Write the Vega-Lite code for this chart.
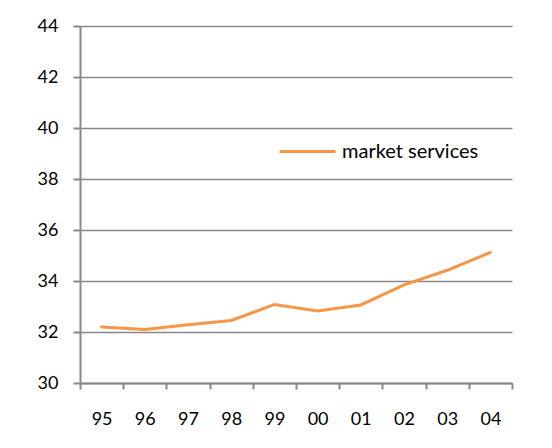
{
  "$schema": "https://vega.github.io/schema/vega-lite/v6.json",
  "width": 432,
  "height": 357,
  "autosize": {"type": "none"},
  "padding": {"left": 80, "top": 26, "right": 40, "bottom": 65},
  "background": "white",
  "data": {
    "values": [
      {"year": "95", "value": 32.2, "series": "market services"},
      {"year": "96", "value": 32.1, "series": "market services"},
      {"year": "97", "value": 32.28, "series": "market services"},
      {"year": "98", "value": 32.45, "series": "market services"},
      {"year": "99", "value": 33.08, "series": "market services"},
      {"year": "00", "value": 32.82, "series": "market services"},
      {"year": "01", "value": 33.06, "series": "market services"},
      {"year": "02", "value": 33.85, "series": "market services"},
      {"year": "03", "value": 34.42, "series": "market services"},
      {"year": "04", "value": 35.12, "series": "market services"}
    ]
  },
  "mark": {"type": "line", "strokeWidth": 3, "strokeCap": "round"},
  "encoding": {
    "x": {
      "field": "year",
      "type": "ordinal",
      "sort": null,
      "scale": {"paddingInner": 0, "paddingOuter": 0},
      "axis": {
        "title": null,
        "labelAngle": 0,
        "tickBand": "extent",
        "tickSize": 6,
        "tickWidth": 2,
        "tickColor": "#888888",
        "domainColor": "#888888",
        "domainWidth": 2,
        "labelPadding": 21,
        "labelFont": "Lato",
        "labelFontSize": 18,
        "labelColor": "#000000",
        "grid": false
      }
    },
    "y": {
      "field": "value",
      "type": "quantitative",
      "scale": {"domain": [30, 44], "nice": false, "zero": false},
      "axis": {
        "title": null,
        "values": [30, 32, 34, 36, 38, 40, 42, 44],
        "tickSize": 7,
        "tickWidth": 2,
        "tickColor": "#888888",
        "domainColor": "#888888",
        "domainWidth": 2,
        "gridColor": "#888888",
        "gridWidth": 1.5,
        "gridOpacity": 1,
        "labelPadding": 15,
        "labelFont": "Lato",
        "labelFontSize": 18,
        "labelColor": "#000000"
      }
    },
    "color": {
      "field": "series",
      "type": "nominal",
      "scale": {"range": ["#F79646"]},
      "legend": {
        "title": null,
        "orient": "none",
        "legendX": 198,
        "legendY": 96,
        "symbolType": "stroke",
        "symbolSize": 3136,
        "symbolStrokeWidth": 3,
        "labelFont": "Lato",
        "labelFontSize": 20,
        "labelColor": "#000000",
        "labelOffset": 5
      }
    }
  },
  "config": {"view": {"stroke": null}}
}
